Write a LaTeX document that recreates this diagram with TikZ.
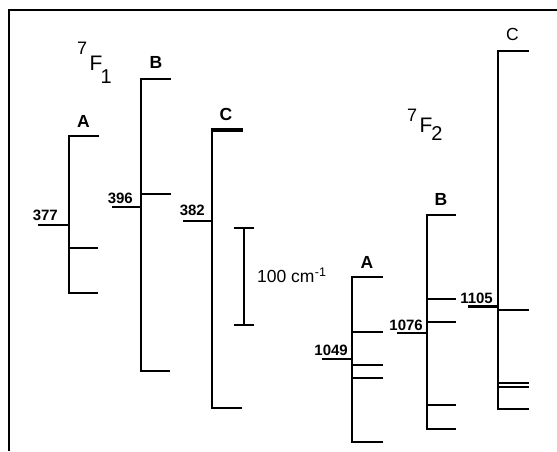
\documentclass[tikz,border=0pt]{standalone}
\usepackage{fontspec}
\setmainfont{Liberation Sans}
\newcommand{\fsz}[1]{\fontsize{#1}{#1}\selectfont}
\begin{document}
\begin{tikzpicture}[x=1pt,y=-1pt,
  frame/.style={line width=2pt},
  stem/.style={line width=2.7pt, line join=miter},
  tick/.style={line width=2.4pt},
  lbl/.style={font=\fsz{17.5}\bfseries, inner sep=0pt, anchor=base},
  lblr/.style={font=\fsz{17.5}, inner sep=0pt, anchor=base},
  num/.style={font=\fsz{15}\bfseries, inner sep=0pt, anchor=base east},
  term/.style={inner sep=0pt, anchor=base west}]
\useasboundingbox (0,0) rectangle (557,451);
% frame
\draw[frame] (557,10) -- (9,10) -- (9,451);

% ---- 7F1 ----
\node[term] (t1) at (77,70) {\raisebox{16pt}{\fsz{18}7}\kern2.5pt{\fsz{21}F}\kern-1.8pt\raisebox{-13pt}{\fsz{20}1}};

% A
\draw[stem] (99,136) -- (69,136) -- (69,293) -- (98,293);
\draw[tick] (69,248) -- (98,248);
\draw[tick] (38,225) -- (69,225);
\node[lbl] (a1) at (83.5,127) {A};
\node[num] (n377) at (58,220) {377};

% B
\draw[stem] (171,79) -- (141,79) -- (141,371) -- (170,371);
\draw[tick] (141,194) -- (171,194);
\draw[tick] (112,207) -- (141,207);
\node[lbl] (b1) at (156,68) {B};
\node[num] (n396) at (133,203) {396};

% C
\draw[stem] (212,129) -- (212,408) -- (242,408);
\draw[line width=4.2pt] (210.7,129.8) -- (243,129.8);
\draw[tick] (183,221) -- (212,221);
\node[lbl] (c1) at (226,120) {C};
\node[num] (n382) at (205,215) {382};

% scale bar
\draw[stem] (244,228) -- (244,325);
\draw[tick] (234,228) -- (254,228);
\draw[tick] (234,325) -- (254,325);
\node[term, font=\fsz{17.5}] (sc) at (257,282) {100 cm\kern0.3pt\raisebox{6pt}{\fsz{12.5}-1}};

% ---- 7F2 ----
\node[term] (t2) at (407,132) {\raisebox{11pt}{\fsz{18}7}\kern2.5pt{\fsz{21}F}\kern-1.2pt\raisebox{-8pt}{\fsz{20}2}};

% A
\draw[stem] (383,277) -- (352,277) -- (352,442) -- (383,442);
\draw[tick] (352,332) -- (383,332);
\draw[tick] (352,365) -- (383,365);
\draw[tick] (352,378) -- (383,378);
\draw[tick] (322,359) -- (352,359);
\node[lbl] (a2) at (367,268) {A};
\node[num] (n1049) at (348,355) {1049};

% B
\draw[stem] (456,215) -- (427,215) -- (427,429) -- (456,429);
\draw[tick] (427,299) -- (456,299);
\draw[tick] (427,322) -- (456,322);
\draw[tick] (427,405) -- (456,405);
\draw[tick] (397,333) -- (427,333);
\node[lbl] (b2) at (441,205) {B};
\node[num] (n1076) at (423,330) {1076};

% C
\draw[stem] (529,51) -- (498,51) -- (498,409) -- (529,409);
\draw[tick] (498,310) -- (529,310);
\draw[tick] (498,383) -- (529,383);
\draw[tick] (498,387) -- (529,387);
\draw[tick] (468,306.5) -- (498,306.5);
\node[lblr] (c2) at (512.5,40) {C};
\node[num] (n1105) at (493,303) {1105};
\end{tikzpicture}
\end{document}
